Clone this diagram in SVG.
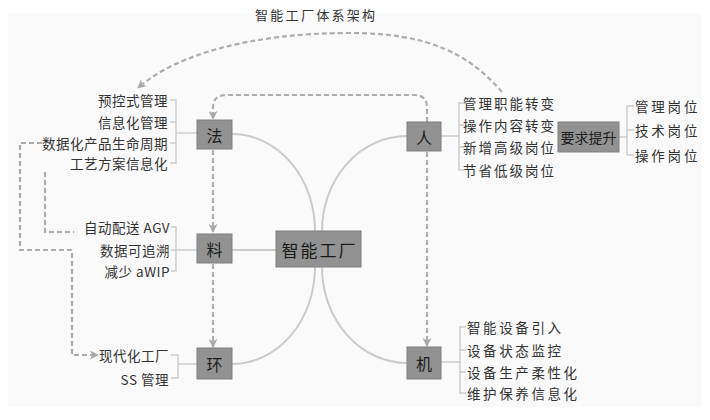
<svg xmlns="http://www.w3.org/2000/svg" width="710" height="420" viewBox="0 0 710 420">
<defs>
<style>
.box{fill:#929292;stroke:#7e7e7e;stroke-width:1}
.nt{font-family:"Noto Sans CJK SC","Liberation Sans",sans-serif;font-size:16px;fill:#1c1c1c;text-anchor:middle;dominant-baseline:central}
.big{font-size:17px;letter-spacing:2px}
.sm{font-size:14px}
.lb{font-family:"Noto Sans CJK SC","Liberation Serif",serif;font-size:13.5px;fill:#333;dominant-baseline:central;letter-spacing:0.5px}
.ls2{letter-spacing:2px}
.ls3{letter-spacing:2.8px}
.ls26{letter-spacing:2.6px}
.r{text-anchor:end}
.arc{fill:none;stroke:#cbcbcb;stroke-width:2}
.br{fill:none;stroke:#cdcdcd;stroke-width:1.5}
.dash{fill:none;stroke:#adadad;stroke-width:2.2;stroke-dasharray:5 3}
</style>
<marker id="ah" viewBox="0 0 10 10" refX="9" refY="5" markerWidth="9" markerHeight="9" markerUnits="userSpaceOnUse" orient="auto">
<path d="M0,0 L10,5 L0,10 L3,5 z" fill="#a8a8a8"/>
</marker>
</defs>
<rect x="8" y="13" width="694" height="394" fill="#fafafa"/>
<text x="255" y="14" font-family="'Noto Sans CJK SC','Liberation Sans',sans-serif" font-size="13" fill="#333" letter-spacing="2.3" dominant-baseline="central">智能工厂体系架构</text>

<g id="connectors">
<path class="arc" d="M232,134 A83 97 0 0 1 315,231"/>
<path class="arc" d="M407,136 A85 95 0 0 0 322,231"/>
<path class="arc" d="M315,267 A83 97 0 0 1 232,364"/>
<path class="arc" d="M322,267 A85 96 0 0 0 407,363"/>
<path class="arc" d="M232,250 H276"/>
<path class="br" d="M170,100 H176 V163 H170 M170,122 H176 M170,143 H176 M176,133 H197"/>
<path class="br" d="M171,227 H176 V271 H171 M171,250 H197"/>
<path class="br" d="M171,355 H178 V378 H171 M178,364 H197"/>
<path class="br" d="M464,103 H459 V170 H464 M464,125 H459 M464,147 H459 M441,136 H459"/>
<path class="br" d="M634,106 H627 V155 H634 M634,130 H627 M619,137 H627"/>
<path class="br" d="M466,327 H460 V393 H466 M466,350 H460 M466,372 H460 M441,362 H460"/>
<path class="dash" d="M502,92 C470,55 430,33 350,33 C250,33 175,55 138,88" marker-end="url(#ah)"/>
<path class="dash" d="M427,122 V108 Q427,95 414,95 H226 Q213,95 213,108 V119" marker-end="url(#ah)"/>
<path class="dash" d="M213,150 V232" marker-end="url(#ah)"/>
<path class="dash" d="M213,264 V347" marker-end="url(#ah)"/>
<path class="dash" d="M427,152 V346" marker-end="url(#ah)"/>
<path class="dash" d="M42,143 H20 V250 H72 V355 H98" marker-end="url(#ah)"/>
<path class="dash" d="M45,172 V232 H74"/>
</g>

<g id="n-center"><rect class="box" x="276" y="231" width="85" height="36"/><text class="nt big" x="319.5" y="249">智能工厂</text></g>
<g id="n-fa"><rect class="box" x="197" y="120" width="35" height="29"/><text class="nt" x="214.5" y="134.5">法</text></g>
<g id="n-liao"><rect class="box" x="197" y="234" width="35" height="29"/><text class="nt" x="214.5" y="248.5">料</text></g>
<g id="n-huan"><rect class="box" x="197" y="348" width="35" height="31"/><text class="nt" x="214.5" y="363.5">环</text></g>
<g id="n-ren"><rect class="box" x="407" y="122" width="34" height="29"/><text class="nt" x="424" y="136.5">人</text></g>
<g id="n-ji"><rect class="box" x="407" y="347" width="34" height="32"/><text class="nt" x="424" y="363">机</text></g>
<g id="n-yq"><rect class="box" x="558" y="122" width="61" height="30"/><text class="nt sm" x="588.5" y="137">要求提升</text></g>

<g id="t-fa">
<text class="lb r" x="168" y="100">预控式管理</text>
<text class="lb r" x="168" y="122">信息化管理</text>
<text class="lb r" x="168" y="143">数据化产品生命周期</text>
<text class="lb r" x="168" y="163">工艺方案信息化</text>
</g>
<g id="t-liao">
<text class="lb r" x="170" y="227">自动配送 AGV</text>
<text class="lb r" x="170" y="250">数据可追溯</text>
<text class="lb r" x="170" y="271">减少 aWIP</text>
</g>
<g id="t-huan">
<text class="lb r" x="169" y="355">现代化工厂</text>
<text class="lb r" x="169" y="379">SS 管理</text>
</g>
<g id="t-ren">
<text class="lb ls2" x="463" y="103">管理职能转变</text>
<text class="lb ls2" x="463" y="125">操作内容转变</text>
<text class="lb ls2" x="463" y="147">新增高级岗位</text>
<text class="lb ls2" x="463" y="170">节省低级岗位</text>
</g>
<g id="t-yq">
<text class="lb ls3" x="635" y="106">管理岗位</text>
<text class="lb ls3" x="635" y="130">技术岗位</text>
<text class="lb ls3" x="635" y="155">操作岗位</text>
</g>
<g id="t-ji">
<text class="lb ls26" x="467" y="327">智能设备引入</text>
<text class="lb ls26" x="467" y="350">设备状态监控</text>
<text class="lb ls26" x="467" y="372">设备生产柔性化</text>
<text class="lb ls26" x="467" y="393">维护保养信息化</text>
</g>
</svg>
